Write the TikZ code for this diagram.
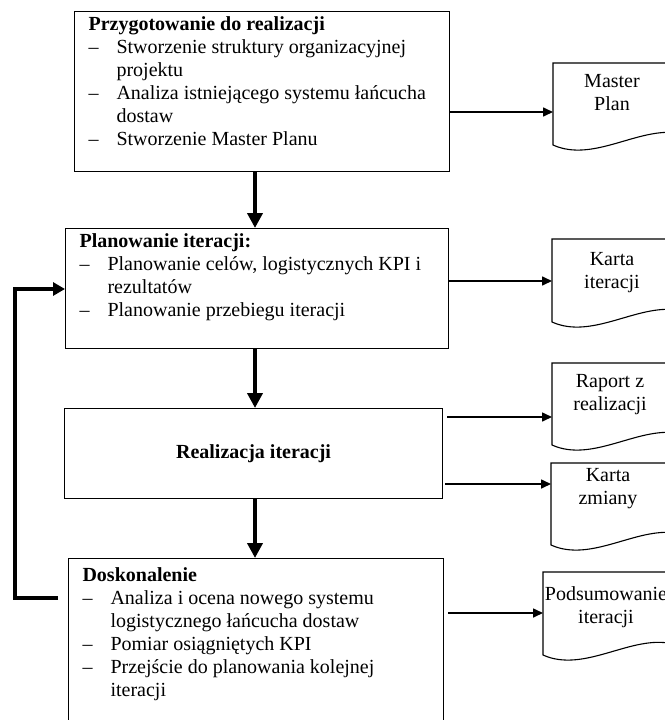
\documentclass[tikz,border=0pt]{standalone}
\usepackage{fontspec}
\setmainfont{Liberation Serif}
\usetikzlibrary{arrows.meta}

% punkt listy z wysunieciem
\newcommand{\pozycja}[1]{\par\hangindent=28pt\hangafter=1\noindent\makebox[28pt][l]{–}#1}
% dokument: lewa krawedz, gora, dol lewej krawedzi
\newcommand{\dokument}[3]{%
  \draw[dok] (#1+125,#2) -- (#1,#2) -- (#1,#3)
    .. controls (#1+40,#3+18) and (#1+85,#3-18) .. (#1+125,#3-12) -- cycle;}

\begin{document}
\begin{tikzpicture}[x=1pt, y=-1pt,
    font=\fontsize{20}{23}\selectfont,
    krok/.style={draw, line width=1.1pt, inner xsep=14pt, inner ysep=5pt, anchor=north west},
    dok/.style={line width=1.1pt},
    doktekst/.style={align=center, inner sep=0pt, anchor=north},
    gruba/.style={line width=4pt, -{Triangle[length=15pt,width=15pt]}},
    cienka/.style={line width=1.6pt, -{Triangle[length=10pt,width=9pt]}}]

		\useasboundingbox (0,0) rectangle (664,720);

		% --- Etapy ---
		\node[krok] (przyg) at (74,11) {\parbox[t][150pt][t]{347pt}{\raggedright
			\textbf{Przygotowanie do realizacji}
			\pozycja{Stworzenie struktury organizacyjnej\newline projektu}
			\pozycja{Analiza istniejącego systemu łańcucha\newline dostaw}
			\pozycja{Stworzenie Master Planu}}};
		\node[krok] (plan) at (65,228) {\parbox[t][110pt][t]{355pt}{\raggedright
			\textbf{Planowanie iteracji:}
			\pozycja{Planowanie celów, logistycznych KPI i\newline rezultatów}
			\pozycja{Planowanie przebiegu iteracji}}};
		\node[krok, minimum width=378pt, minimum height=90pt, font=\fontsize{20}{23}\selectfont\bfseries] (real) at (64,408) {Realizacja iteracji};
		\node[krok, inner ysep=9pt] (dosk) at (68,558) {\parbox[t][170pt][t]{347pt}{\raggedright
			\textbf{Doskonalenie}
			\pozycja{Analiza i ocena nowego systemu\newline logistycznego łańcucha dostaw}
			\pozycja{Pomiar osiągniętych KPI}
			\pozycja{Przejście do planowania kolejnej\newline iteracji}}};

		% --- Dokumenty ---
		\dokument{553}{63}{145}
		\node[doktekst] (mplan) at (612,74) {Master\\Plan};
		\dokument{552}{239}{322}
		\node[doktekst] (karta) at (612,252) {Karta\\iteracji};
		\dokument{552}{363}{445}
		\node[doktekst] (raport) at (610,374) {Raport z\\realizacji};
		\dokument{551}{463}{545}
		\node[doktekst] (zmiana) at (608,468) {Karta\\zmiany};
		\dokument{543}{572}{655}
		\node[doktekst] (podsum) at (606,586) {Podsumowanie\\iteracji};

		% --- Strzalki do dokumentow ---
		\coordinate (wej1) at (553,112);
		\coordinate (wej2) at (552,281);
		\coordinate (wej3) at (552,417);
		\coordinate (wej4) at (551,484);
		\coordinate (wej5) at (543,613);
		\draw[cienka] (przyg.east |- wej1) -- (wej1);
		\draw[cienka] (plan.east |- wej2) -- (wej2);
		\draw[cienka] ([xshift=4pt]real.east |- wej3) -- (wej3);
		\draw[cienka] ([xshift=2pt]real.east |- wej4) -- (wej4);
		\draw[cienka] ([xshift=4pt]dosk.east |- wej5) -- (wej5);

		% --- Przebieg ---
		\coordinate (os) at (255,0);
		\draw[gruba] (przyg.south -| os) -- (plan.north -| os);
		\draw[gruba] (plan.south -| os) -- (real.north -| os);
		\draw[gruba] (real.south -| os) -- (dosk.north -| os);

		% petla powrotna
		\coordinate (petla) at (58,598);
		\coordinate (zawrot) at (15,289);
		\draw[gruba, -{Triangle[length=12pt,width=13pt]}] (petla) -- (petla -| zawrot) -- (zawrot) -- (zawrot -| plan.west);

	\end{tikzpicture}
\end{document}
